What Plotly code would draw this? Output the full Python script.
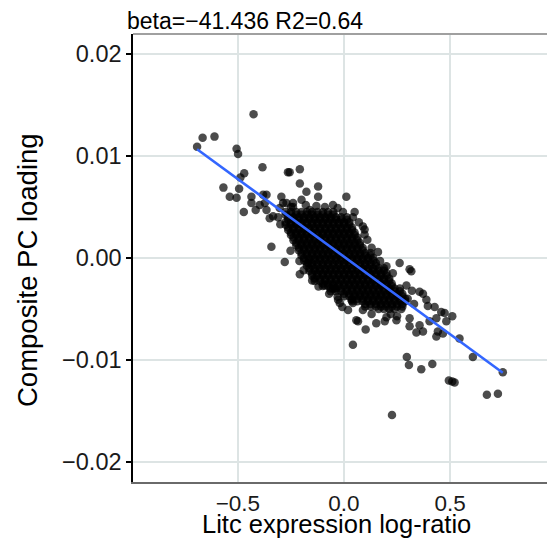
import plotly.graph_objects as go

# ---------------- data ----------------
# sparse / fringe points (Litc expression log-ratio, Composite PC loading)
outlier_x = [-0.692, -0.666, -0.610, -0.426, -0.506, -0.499, -0.384, -0.470, -0.488, -0.568,
             -0.494, -0.538, -0.506, -0.436, -0.472, -0.416, -0.381, -0.365, -0.264, -0.256,
             -0.208, -0.208, -0.177, -0.122, -0.342, -0.279, -0.252, -0.373, -0.397, -0.365,
             -0.334, -0.295, -0.287, -0.240, -0.200, -0.161, -0.168, -0.208, -0.122, -0.052,
             0.011, -0.436, -0.350, 0.097, 0.160, 0.262, 0.317, 0.294, 0.372, 0.427,
             0.458, 0.510, 0.482, 0.435, 0.403, 0.442, 0.435, 0.372, 0.341, 0.356,
             0.544, 0.607, 0.748, 0.296, 0.306, 0.364, 0.416, 0.494, 0.521, 0.510,
             0.673, 0.725, 0.042, 0.102, 0.152, 0.066, 0.192, 0.247, 0.309, -0.091,
             -0.008, -0.028, 0.226, 0.466, 0.356, 0.388, 0.474, 0.058, -0.020, -0.044,
             0.019, 0.089, 0.097, 0.309, -0.303, -0.271, -0.240, 0.042, 0.089, 0.035,
             0.200, -0.005, 0.042, 0.309, -0.052, 0.395,
             0.300, 0.320, 0.270, 0.220, 0.130, 0.330, 0.250,
             0.050, 0.070, 0.110, 0.130, 0.170, 0.200, 0.230,
             -0.210, -0.190, -0.150, -0.120, -0.070, -0.030,
             -0.310, -0.300, -0.250, -0.180, -0.130, -0.090, -0.030]
outlier_y = [0.0109, 0.0118, 0.0119, 0.0141, 0.0107, 0.0102, 0.0089, 0.0083, 0.0079, 0.0069,
             0.0068, 0.0060, 0.0059, 0.0060, 0.0045, 0.0047, 0.0062, 0.0062, 0.0084, 0.0084,
             0.0087, 0.0073, 0.0065, 0.0070, 0.0011, -0.0004, 0.0007, 0.0054, 0.0052, 0.0047,
             0.0041, 0.0060, 0.0054, 0.0054, 0.0057, 0.0047, -0.0005, -0.0016, 0.0060, 0.0052,
             0.0060, 0.0054, 0.0039, 0.0028, 0.0006, -0.0005, -0.0013, -0.0027, -0.0035, -0.0048,
             -0.0053, -0.0057, -0.0062, -0.0059, -0.0062, -0.0072, -0.0077, -0.0072, -0.0073, -0.0066,
             -0.0079, -0.0097, -0.0112, -0.0097, -0.0105, -0.0109, -0.0104, -0.0120, -0.0122, -0.0121,
             -0.0134, -0.0133, -0.0085, -0.0070, -0.0064, -0.0062, -0.0062, -0.0061, -0.0059, -0.0027,
             -0.0048, -0.0041, -0.0154, -0.0074, -0.0033, -0.0041, -0.0054, -0.0061, -0.0044, -0.0030,
             -0.0051, 0.0031, 0.0023, -0.0067, 0.0049, 0.0054, 0.0050, -0.0044, -0.0051, -0.0041,
             -0.0058, 0.0045, 0.0040, -0.0011, -0.0030, -0.0047,
             -0.0040, -0.0032, -0.0050, -0.0055, -0.0055, -0.0045, -0.0057,
             0.0045, 0.0035, 0.0018, 0.0010, -0.0003, -0.0008, -0.0015,
             -0.0003, -0.0012, -0.0022, -0.0028, -0.0035, -0.0038,
             0.0040, 0.0033, 0.0050, 0.0052, 0.0051, 0.0050, 0.0049]

# dense core of the cloud, read row by row (one y level per row)
core_row_y = [0.0045, 0.0040, 0.0035, 0.0030, 0.0025, 0.0020, 0.0015, 0.0010, 0.0005, 0.0000,
              -0.0005, -0.0010, -0.0015, -0.0020, -0.0025, -0.0030, -0.0035, -0.0040, -0.0045, -0.0050]
# second, interleaved set of core rows (the core is solid black: many overlapping points)
core_row_y_mid = [0.00425, 0.00375, 0.00325, 0.00275, 0.00225, 0.00175, 0.00125, 0.00075, 0.00025,
                  -0.00025, -0.00075, -0.00125, -0.00175, -0.00225, -0.00275, -0.00325, -0.00375,
                  -0.00425, -0.00475]
core_row_x = [
    [-0.275, -0.25, -0.225, -0.2, -0.175, -0.15, -0.125, -0.1, -0.075, -0.05],
    [-0.263, -0.238, -0.213, -0.188, -0.163, -0.138, -0.113, -0.088, -0.063, -0.038, -0.013, 0.013],
    [-0.275, -0.25, -0.225, -0.2, -0.175, -0.15, -0.125, -0.1, -0.075, -0.05, -0.025, 0.0, 0.025],
    [-0.263, -0.238, -0.213, -0.188, -0.163, -0.138, -0.113, -0.088, -0.063, -0.038, -0.013, 0.013, 0.038],
    [-0.25, -0.225, -0.2, -0.175, -0.15, -0.125, -0.1, -0.075, -0.05, -0.025, 0.0, 0.025, 0.05],
    [-0.238, -0.213, -0.188, -0.163, -0.138, -0.113, -0.088, -0.063, -0.038, -0.013, 0.013, 0.038, 0.063],
    [-0.225, -0.2, -0.175, -0.15, -0.125, -0.1, -0.075, -0.05, -0.025, 0.0, 0.025, 0.05, 0.075],
    [-0.213, -0.188, -0.163, -0.138, -0.113, -0.088, -0.063, -0.038, -0.013, 0.013, 0.038, 0.063, 0.088],
    [-0.2, -0.175, -0.15, -0.125, -0.1, -0.075, -0.05, -0.025, 0.0, 0.025, 0.05, 0.075, 0.1, 0.125],
    [-0.188, -0.163, -0.138, -0.113, -0.088, -0.063, -0.038, -0.013, 0.013, 0.038, 0.063, 0.088, 0.113, 0.138],
    [-0.175, -0.15, -0.125, -0.1, -0.075, -0.05, -0.025, 0.0, 0.025, 0.05, 0.075, 0.1, 0.125, 0.15],
    [-0.163, -0.138, -0.113, -0.088, -0.063, -0.038, -0.013, 0.013, 0.038, 0.063, 0.088, 0.113, 0.138, 0.163, 0.188],
    [-0.15, -0.125, -0.1, -0.075, -0.05, -0.025, 0.0, 0.025, 0.05, 0.075, 0.1, 0.125, 0.15, 0.175, 0.2],
    [-0.138, -0.113, -0.088, -0.063, -0.038, -0.013, 0.013, 0.038, 0.063, 0.088, 0.113, 0.138, 0.163, 0.188, 0.213],
    [-0.1, -0.075, -0.05, -0.025, 0.0, 0.025, 0.05, 0.075, 0.1, 0.125, 0.15, 0.175, 0.2, 0.225],
    [-0.063, -0.038, -0.013, 0.013, 0.038, 0.063, 0.088, 0.113, 0.138, 0.163, 0.188, 0.213, 0.238, 0.263],
    [0.0, 0.025, 0.05, 0.075, 0.1, 0.125, 0.15, 0.175, 0.2, 0.225, 0.25, 0.275],
    [0.038, 0.063, 0.088, 0.113, 0.138, 0.163, 0.188, 0.213, 0.238, 0.263, 0.288],
    [0.1, 0.125, 0.15, 0.175, 0.2, 0.225, 0.25, 0.275],
    [0.163, 0.188, 0.213, 0.238],
]

# fitted regression line
fit_slope = -0.01521
fit_intercept = 0.00013

title_text = "beta=\u221241.436 R2=0.64"
x_title = "Litc expression log-ratio"
y_title = "Composite PC loading"
x_tickvals = [-0.5, 0.0, 0.5]
x_ticktext = ["\u22120.5", "0.0", "0.5"]
y_tickvals = [-0.02, -0.01, 0.0, 0.01, 0.02]
y_ticktext = ["\u22120.02", "\u22120.01", "0.00", "0.01", "0.02"]

# ---------------- build ----------------
pts_x = list(outlier_x)
pts_y = list(outlier_y)
for yv, row in zip(core_row_y, core_row_x):
    for xv in row:
        pts_x.append(xv)
        pts_y.append(yv)
for yv, row in zip(core_row_y_mid, core_row_x):
    for xv in row:
        pts_x.append(xv)
        pts_y.append(yv)

x_lo, x_hi = min(pts_x), max(pts_x)
line_x = [x_lo, x_hi]
line_y = [fit_intercept + fit_slope * v for v in line_x]

FONT = "Liberation Sans, Arial, Helvetica, sans-serif"

fig = go.Figure()
fig.add_trace(go.Scatter(
    x=pts_x, y=pts_y, mode="markers",
    marker=dict(size=8.5, color="black", opacity=0.7, line=dict(width=0)),
    hoverinfo="skip", showlegend=False))
fig.add_trace(go.Scatter(
    x=line_x, y=line_y, mode="lines",
    line=dict(color="#3366FF", width=2.6),
    hoverinfo="skip", showlegend=False))

W, H = 547, 540
L, R, T, B = 133, 0, 34, 58
pw, ph = W - L - R, H - T - B

def px(xp):
    return (xp - L) / pw

def py(yp):
    return (H - B - yp) / ph

fig.update_layout(
    width=W, height=H,
    margin=dict(l=L, r=R, t=T, b=B, pad=0),
    paper_bgcolor="white", plot_bgcolor="white",
    font=dict(family=FONT, color="black"),
    xaxis=dict(range=[-0.9939, 0.9562], tickvals=x_tickvals, ticktext=x_ticktext,
               showgrid=True, gridcolor="#dde4e4", gridwidth=2, zeroline=False,
               showline=True, linecolor="#6a6a6a", linewidth=2,
               ticks="",
               tickfont=dict(size=22.5, family=FONT, color="#1a1a1a")),
    yaxis=dict(range=[-0.02196, 0.02196], tickvals=y_tickvals, ticktext=y_ticktext,
               showgrid=True, gridcolor="#dde4e4", gridwidth=2, zeroline=False,
               showline=True, linecolor="black", linewidth=1.5,
               ticks="outside", ticklen=5, tickcolor="black", tickwidth=1.5,
               tickfont=dict(size=23.5, family=FONT, color="#1a1a1a")),
    shapes=[dict(type="line", xref="paper", yref="paper", x0=0, x1=1, y0=1, y1=1,
                 line=dict(color="#a0a0a0", width=2))],
    annotations=[
        dict(text=title_text, xref="paper", yref="paper", x=px(125), y=py(21.5),
             xanchor="left", yanchor="middle", showarrow=False,
             font=dict(size=23, family=FONT, color="black")),
        dict(text=x_title, xref="paper", yref="paper", x=px(336.5), y=py(524),
             xanchor="center", yanchor="middle", showarrow=False,
             font=dict(size=25.5, family=FONT, color="black")),
        dict(text=y_title, xref="paper", yref="paper", x=px(27), y=py(270),
             xanchor="center", yanchor="middle", showarrow=False, textangle=-90,
             font=dict(size=27.5, family=FONT, color="black")),
    ],
)

fig.write_html("out.html")
